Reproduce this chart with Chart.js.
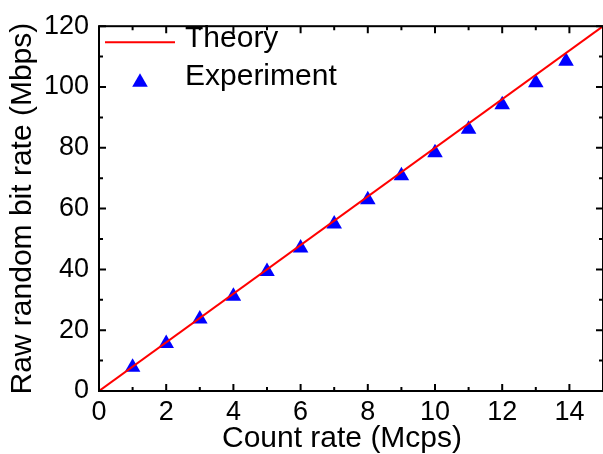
<!DOCTYPE html>
<html>
<head>
<meta charset="utf-8">
<script src="https://cdn.jsdelivr.net/npm/chart.js@4.4.1/dist/chart.umd.min.js"></script>
<style>
  html, body { margin: 0; padding: 0; background: #fff; overflow: hidden; }
</style>
</head>
<body>
<canvas id="rateChart" width="612" height="454"></canvas>
<script>
// values
const countRate = [1, 2, 3, 4, 5, 6, 7, 8, 9, 10, 11, 12, 13, 13.9];
const bitRate = [7.8, 15.6, 23.7, 31.2, 39.3, 47.0, 54.9, 62.9, 70.8, 78.4, 86.1, 94.2, 101.4, 108.5];
const theoryX = [0, 15];
const theoryY = [0, 120];

const xTicks = [0, 2, 4, 6, 8, 10, 12, 14];
const xMinor = [1, 3, 5, 7, 9, 11, 13, 15];
const yTicks = [0, 20, 40, 60, 80, 100, 120];
const yMinor = [10, 30, 50, 70, 90, 110];

const FONT = '"Liberation Sans", Arial, sans-serif';

// box around the plot, inward ticks on all four sides, legend, x title
const framePlugin = {
  id: 'frame',
  afterDraw(chart) {
    const { ctx, chartArea: a, scales } = chart;
    const x = scales.x, y = scales.y;
    ctx.save();
    ctx.strokeStyle = '#000';
    ctx.lineWidth = 2;
    ctx.strokeRect(a.left, a.top, a.right - a.left, a.bottom - a.top);

    ctx.beginPath();
    const xt = (vals, len) => vals.forEach(v => {
      const p = x.getPixelForValue(v);
      ctx.moveTo(p, a.bottom); ctx.lineTo(p, a.bottom - len);
      ctx.moveTo(p, a.top); ctx.lineTo(p, a.top + len);
    });
    const yt = (vals, len) => vals.forEach(v => {
      const p = y.getPixelForValue(v);
      ctx.moveTo(a.left, p); ctx.lineTo(a.left + len, p);
      ctx.moveTo(a.right, p); ctx.lineTo(a.right - len, p);
    });
    xt(xTicks, 7); xt(xMinor, 4);
    yt(yTicks, 7); yt(yMinor, 4);
    ctx.stroke();

    // legend
    const ds = chart.data.datasets;
    ctx.font = '30px ' + FONT;
    ctx.fillStyle = '#000';
    ctx.textBaseline = 'middle';
    ctx.textAlign = 'left';

    ctx.strokeStyle = ds[0].borderColor;
    ctx.lineWidth = 2;
    ctx.beginPath();
    ctx.moveTo(a.left + 6, a.top + 16);
    ctx.lineTo(a.left + 76, a.top + 16);
    ctx.stroke();
    ctx.fillText(ds[0].label, a.left + 86, a.top + 13);

    const cx = a.left + 41, cy = a.top + 56, r = 9;
    ctx.fillStyle = ds[1].backgroundColor;
    ctx.beginPath();
    ctx.moveTo(cx, cy - r);
    ctx.lineTo(cx + r * Math.sin(2 * Math.PI / 3), cy + r / 2);
    ctx.lineTo(cx - r * Math.sin(2 * Math.PI / 3), cy + r / 2);
    ctx.closePath();
    ctx.fill();
    ctx.fillStyle = '#000';
    ctx.fillText(ds[1].label, a.left + 86, a.top + 51);

    // x axis title
    ctx.textAlign = 'center';
    ctx.fillText('Count rate (Mcps)', a.left + 243, 439);
    ctx.restore();
  }
};

new Chart(document.getElementById('rateChart').getContext('2d'), {
  type: 'scatter',
  data: {
    datasets: [
      {
        label: 'Theory',
        data: theoryX.map((v, i) => ({ x: v, y: theoryY[i] })),
        showLine: true,
        borderColor: '#ff0000',
        borderWidth: 2,
        pointRadius: 0
      },
      {
        label: 'Experiment',
        data: countRate.map((v, i) => ({ x: v, y: bitRate[i] })),
        pointStyle: 'triangle',
        pointRadius: 9,
        backgroundColor: '#0000ff',
        borderColor: '#0000ff',
        borderWidth: 0
      }
    ]
  },
  options: {
    responsive: false,
    animation: false,
    events: [],
    layout: { padding: { top: 19, right: 5, left: 0, bottom: 0 } },
    plugins: {
      legend: { display: false },
      tooltip: { enabled: false }
    },
    scales: {
      x: {
        type: 'linear',
        position: 'bottom',
        min: 0,
        max: 15,
        border: { display: false },
        grid: { display: false, drawTicks: false },
        afterBuildTicks: s => { s.ticks = xTicks.map(v => ({ value: v })); },
        afterFit: s => { s.height = 63; },
        ticks: {
          autoSkip: false,
          maxRotation: 0,
          padding: 5,
          color: '#000',
          font: { family: FONT, size: 27 }
        }
      },
      y: {
        type: 'linear',
        position: 'left',
        min: 0,
        max: 120,
        border: { display: false },
        grid: { display: false, drawTicks: false },
        afterBuildTicks: s => { s.ticks = yTicks.map(v => ({ value: v })); },
        afterFit: s => { s.width = 99; },
        title: {
          display: true,
          text: 'Raw random bit rate (Mbps)',
          color: '#000',
          font: { family: FONT, size: 30 },
          padding: { top: 5, bottom: 0 }
        },
        ticks: {
          padding: 10,
          color: '#000',
          font: { family: FONT, size: 27 }
        }
      }
    }
  },
  plugins: [framePlugin]
});
</script>
</body>
</html>
